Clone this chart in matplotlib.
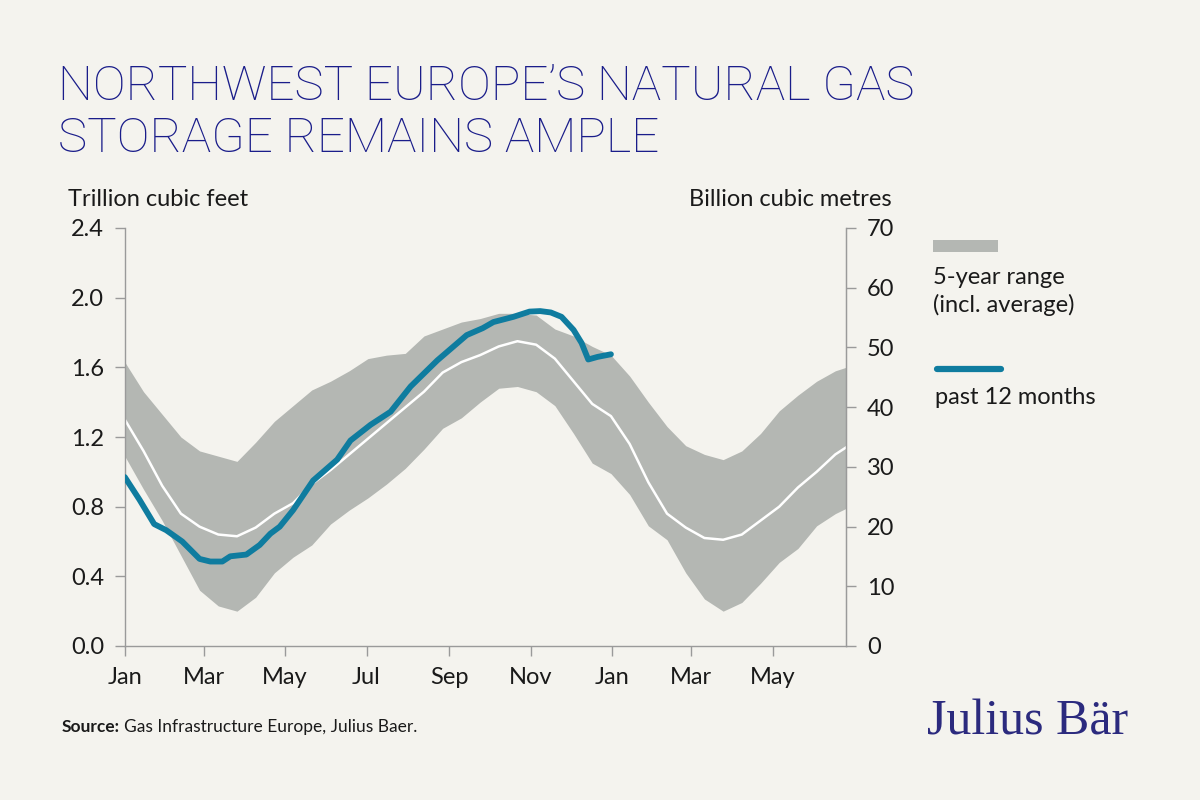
import matplotlib
matplotlib.use("Agg")
import matplotlib.pyplot as plt
from matplotlib.patches import Rectangle
from matplotlib.lines import Line2D

# ---------------- data ----------------
# x = days since 1 January of the first year shown
band_days = [0, 14, 28, 42, 56, 70, 84, 98, 112, 126, 140, 154, 168, 182, 196,
             210, 224, 238, 252, 266, 280, 294, 308, 322, 336, 350, 364, 378,
             392, 406, 420, 434, 448, 462, 476, 490, 504, 518, 532, 540]
band_upper = [1.63, 1.46, 1.33, 1.20, 1.12, 1.09, 1.06, 1.17, 1.29, 1.38, 1.47,
              1.52, 1.58, 1.65, 1.67, 1.68, 1.78, 1.82, 1.86, 1.88, 1.91, 1.91,
              1.90, 1.82, 1.78, 1.72, 1.67, 1.55, 1.40, 1.26, 1.15, 1.10, 1.07,
              1.12, 1.22, 1.35, 1.44, 1.52, 1.58, 1.60]
band_lower = [1.09, 0.90, 0.72, 0.52, 0.32, 0.23, 0.20, 0.28, 0.42, 0.51, 0.58,
              0.70, 0.78, 0.85, 0.93, 1.02, 1.13, 1.25, 1.31, 1.40, 1.48, 1.49,
              1.46, 1.38, 1.22, 1.05, 0.99, 0.87, 0.69, 0.61, 0.42, 0.27, 0.20,
              0.25, 0.36, 0.48, 0.56, 0.69, 0.76, 0.79]
band_avg = [1.30, 1.12, 0.92, 0.76, 0.685, 0.64, 0.63, 0.68, 0.76, 0.82, 0.93,
            1.01, 1.10, 1.19, 1.28, 1.37, 1.46, 1.57, 1.63, 1.67, 1.72, 1.75,
            1.73, 1.65, 1.52, 1.39, 1.32, 1.16, 0.94, 0.76, 0.68, 0.62, 0.61,
            0.64, 0.72, 0.80, 0.91, 1.00, 1.10, 1.14]

past_days = [0, 11, 22, 31, 43, 56, 64, 73, 79, 91, 101, 109, 116, 126, 141,
             159, 169, 184, 199, 214, 234, 256, 268, 276, 291, 303, 311, 319,
             327, 336, 342, 347, 354, 364]
past_vals = [0.97, 0.84, 0.70, 0.665, 0.60, 0.50, 0.485, 0.485, 0.515, 0.525,
             0.58, 0.645, 0.685, 0.78, 0.95, 1.07, 1.18, 1.27, 1.345, 1.49,
             1.64, 1.785, 1.825, 1.86, 1.89, 1.92, 1.923, 1.915, 1.89, 1.815,
             1.74, 1.645, 1.66, 1.675]

tick_days = [0, 59, 120, 181, 243, 304, 365, 424, 485]
tick_labels = ["Jan", "Mar", "May", "Jul", "Sep", "Nov", "Jan", "Mar", "May"]
left_ticks = [0.0, 0.4, 0.8, 1.2, 1.6, 2.0, 2.4]
right_ticks = [0, 10, 20, 30, 40, 50, 60, 70]

title = "NORTHWEST EUROPE\u2019S NATURAL GAS\nSTORAGE REMAINS AMPLE"

# ---------------- style ----------------
BG = "#f4f3ee"
BAND = "#b4b7b3"
BLUE = "#0f7c9f"
TITLE_C = "#1a1d8a"
TXT = "#1a1a1a"
SPINE = "#9a9a9a"
FONT = ["Lato", "DejaVu Sans"]

plt.rcParams["font.family"] = FONT

fig = plt.figure(figsize=(12, 8), dpi=100, facecolor=BG)
ax = fig.add_axes([0.104, 0.1925, 0.601, 0.5225])
ax.set_facecolor(BG)

ax.fill_between(band_days, band_lower, band_upper, color=BAND, lw=0, zorder=1)
ax.plot(band_days, band_avg, color="white", lw=1.8, zorder=2)
ax.plot(past_days, past_vals, color=BLUE, lw=4.2, zorder=3,
        solid_capstyle="round", solid_joinstyle="round")

ax.set_xlim(0, 540)
ax.set_ylim(0, 2.4)
ax.set_xticks(tick_days)
ax.set_xticklabels(tick_labels)
ax.set_yticks(left_ticks)
ax.set_yticklabels([f"{v:.1f}" for v in left_ticks])

ax.spines["top"].set_visible(False)
for s in ["left", "bottom", "right"]:
    ax.spines[s].set_color(SPINE)
    ax.spines[s].set_linewidth(1.0)

ax.tick_params(axis="both", colors=SPINE, labelcolor=TXT, labelsize=17,
               length=7, width=1.0, direction="out")
ax.tick_params(axis="x", pad=8)
ax.tick_params(axis="y", pad=8)

ax2 = ax.twinx()
ax2.set_ylim(0, 70)
ax2.set_yticks(right_ticks)
ax2.set_yticklabels([str(v) for v in right_ticks])
for s in ["top", "left", "bottom"]:
    ax2.spines[s].set_visible(False)
ax2.spines["right"].set_color(SPINE)
ax2.tick_params(axis="y", colors=SPINE, labelcolor=TXT, labelsize=17,
                length=7, width=1.0, direction="out", pad=8)

# axis titles
fig.text(68 / 1200, 1 - 200 / 800, "Trillion cubic feet", fontsize=17,
         color=TXT, ha="left", va="center")
fig.text(892 / 1200, 1 - 200 / 800, "Billion cubic metres", fontsize=17,
         color=TXT, ha="right", va="center")

# title
fig.text(58 / 1200, 1 - 64 / 800, title, fontsize=35.5, color=TITLE_C,
         ha="left", va="top", fontweight="light", linespacing=1.15,
         family=["Roboto", "DejaVu Sans"])

# legend
fig.patches.append(Rectangle((933 / 1200, 1 - 252 / 800), 65 / 1200, 12 / 800,
                             transform=fig.transFigure, color=BAND, lw=0))
fig.text(933 / 1200, 1 - 277 / 800, "5-year range", fontsize=17, color=TXT,
         ha="left", va="center")
fig.text(933 / 1200, 1 - 305 / 800, "(incl. average)", fontsize=17, color=TXT,
         ha="left", va="center")
fig.lines.append(Line2D([937 / 1200, 1001 / 1200], [1 - 369 / 800, 1 - 369 / 800],
                        transform=fig.transFigure, color=BLUE, lw=4.5,
                        solid_capstyle="round"))
fig.text(935 / 1200, 1 - 397 / 800, "past 12 months", fontsize=17, color=TXT,
         ha="left", va="center")

# source
src = fig.text(62 / 1200, 1 - 727 / 800, "Source:", fontsize=12.5, color=TXT,
               ha="left", va="center", fontweight="bold")
renderer = fig.canvas.get_renderer()
bb = src.get_window_extent(renderer=renderer)
fig.text((bb.x1 + 4) / 1200, 1 - 727 / 800,
         "Gas Infrastructure Europe, Julius Baer.",
         fontsize=12.5, color=TXT, ha="left", va="center")

# logo
fig.text(1128 / 1200, 1 - 722 / 800, "Julius B\u00e4r", fontsize=36,
         color="#2b2a7e", ha="right", va="center",
         family=["Liberation Serif", "DejaVu Serif"])

fig.savefig("out.png", dpi=100, facecolor=BG)
